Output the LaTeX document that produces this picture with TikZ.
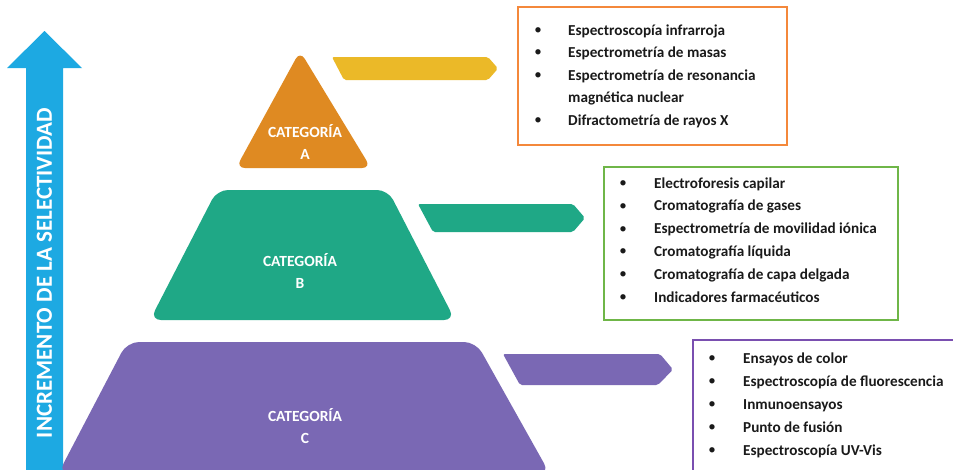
\documentclass[tikz,border=0pt]{standalone}
\usepackage{fontspec}
\setmainfont{Carlito}
\definecolor{arrowblue}{HTML}{1DA9E2}
\definecolor{catA}{HTML}{DF8A22}
\definecolor{barA}{HTML}{EBB928}
\definecolor{catB}{HTML}{1FA886}
\definecolor{catC}{HTML}{7A68B4}
\definecolor{boxA}{HTML}{F4883B}
\definecolor{boxB}{HTML}{6FB648}
\definecolor{boxC}{HTML}{7A4FB0}
\definecolor{txt}{HTML}{1A1A1A}
\tikzset{
  catlabel/.style={text=white, font=\bfseries\fontsize{15.5}{22}\selectfont, align=center},
  listitem/.style={anchor=west, inner sep=0pt, text=txt, font=\bfseries\fontsize{15.2}{17}\selectfont, text height=11pt, text depth=3pt},
  bulletmark/.style={anchor=center, inner sep=0pt, text=txt, font=\fontsize{15}{17}\selectfont},
  listbox/.style={draw, line width=1.8pt, fill=none}
}
\begin{document}
\begin{tikzpicture}[x=1pt,y=-1pt]
\useasboundingbox (0,0) rectangle (953,469);
\clip (0,0) rectangle (953,469);
\fill[white] (0,0) rectangle (953,469);

% selectivity arrow
\fill[arrowblue] (26,475) -- (26,68) -- (7,68) -- (44.5,31) -- (82,68) -- (63,68) -- (63,475) -- cycle;
\node[rotate=90, text=white, font=\bfseries\fontsize{23}{26}\selectfont] (arrowlabel) at (44.5,273) {INCREMENTO DE LA SELECTIVIDAD};

% pyramid pieces
\fill[catA, rounded corners=9pt] (303,168) -- (236,168) -- (300,51) -- (371,168) -- cycle;
\fill[catB, rounded corners=11pt] (300,320) -- (150,320) -- (217,190) -- (388,190) -- (455,320) -- cycle;
\fill[catC, rounded corners=12pt] (300,474) -- (58,474) -- (127,342) -- (476,342) -- (550,474) -- cycle;

% bars
\fill[barA, rounded corners=2pt] (332,57) -- (488,57) -- (498,68.5) -- (488,80) -- (344,80) -- cycle;
\fill[catB, rounded corners=2pt] (418,204) -- (573,204) -- (585,218) -- (573,232) -- (433,232) -- cycle;
\fill[catC, rounded corners=2pt] (503,354) -- (660,354) -- (673,369.5) -- (658,385) -- (520,385) -- cycle;

% category labels
\node[catlabel] (labA) at (305,142) {CATEGORÍA\\A};
\node[catlabel] (labB) at (300,271) {CATEGORÍA\\B};
\node[catlabel] (labC) at (305,426) {CATEGORÍA\\C};

% boxes
\draw[listbox, boxA] (518,7) rectangle (787,145);
\draw[listbox, boxB] (604,167) rectangle (898,320);
\draw[listbox, boxC] (693,340) rectangle (965,480);

% list A
\foreach \t/\y [count=\i] in {Espectroscopía infrarroja/31, Espectrometría de masas/53, Espectrometría de resonancia/76, Difractometría de rayos X/121}{
  \node[bulletmark] (ba\i) at (538,\y) {\textbullet};
  \node[listitem] (ta\i) at (568,\y) {\t};
}
\node[listitem] (ta5) at (568,98) {magnética nuclear};

% list B
\foreach \t [count=\i] in {Electroforesis capilar, Cromatografía de gases, Espectrometría de movilidad iónica, Cromatografía líquida, Cromatografía de capa delgada, Indicadores farmacéuticos}{
  \node[bulletmark] (bb\i) at (623,{184+22.8*(\i-1)}) {\textbullet};
  \node[listitem] (tb\i) at (654,{184+22.8*(\i-1)}) {\t};
}

% list C
\foreach \t [count=\i] in {Ensayos de color, Espectroscopía de fluorescencia, Inmunoensayos, Punto de fusión, Espectroscopía UV-Vis}{
  \node[bulletmark] (bc\i) at (712,{359+23*(\i-1)}) {\textbullet};
  \node[listitem] (tc\i) at (743,{359+23*(\i-1)}) {\t};
}
\end{tikzpicture}
\end{document}
